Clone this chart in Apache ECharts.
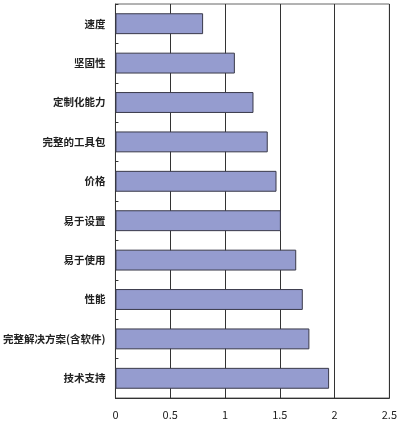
<!DOCTYPE html>
<html>
<head>
<meta charset="utf-8">
<style>
  html, body { margin: 0; padding: 0; background: #fff; }
  #chart { width: 400px; height: 421px; }
</style>
<script src="https://cdn.jsdelivr.net/npm/echarts@6/dist/echarts.min.js"></script>
</head>
<body>
<div id="chart"></div>
<script>
// categories top to bottom
const categories = ['速度', '坚固性', '定制化能力', '完整的工具包', '价格', '易于设置', '易于使用', '性能', '完整解决方案(含软件)', '技术支持'];
const scores = [0.80, 1.09, 1.26, 1.39, 1.47, 1.51, 1.65, 1.71, 1.77, 1.95];
const xTicks = [0, 0.5, 1, 1.5, 2, 2.5];

const chart = echarts.init(document.getElementById('chart'));

const option = {
  animation: false,
  textStyle: { fontFamily: '"Noto Sans CJK SC", "Noto Sans", sans-serif' },
  grid: {
    left: 115,
    right: 8,
    top: 4,
    bottom: 23,
    show: true,
    borderColor: '#666',
    borderWidth: 1
  },
  xAxis: {
    type: 'value',
    min: xTicks[0],
    max: xTicks[xTicks.length - 1],
    interval: 0.5,
    axisLine: { show: true, lineStyle: { color: '#333' } },
    axisTick: { show: false },
    splitLine: { show: true, lineStyle: { color: '#333', width: 1 } },
    axisLabel: {
      color: '#222',
      fontSize: 11,
      margin: 11,
      formatter: v => String(v)
    }
  },
  yAxis: {
    type: 'category',
    inverse: true,
    data: categories,
    axisLine: { show: true, lineStyle: { color: '#333' } },
    axisTick: { show: true, inside: true, length: 3, lineStyle: { color: '#333' } },
    axisLabel: {
      color: '#222',
      fontSize: 10.5,
      fontWeight: 'bold',
      margin: 10
    }
  },
  series: [
    {
      type: 'bar',
      data: scores,
      barWidth: '53%',
      itemStyle: {
        color: '#959ccf',
        borderColor: '#3a3a4a',
        borderWidth: 1
      }
    }
  ]
};

chart.setOption(option);
</script>
</body>
</html>
